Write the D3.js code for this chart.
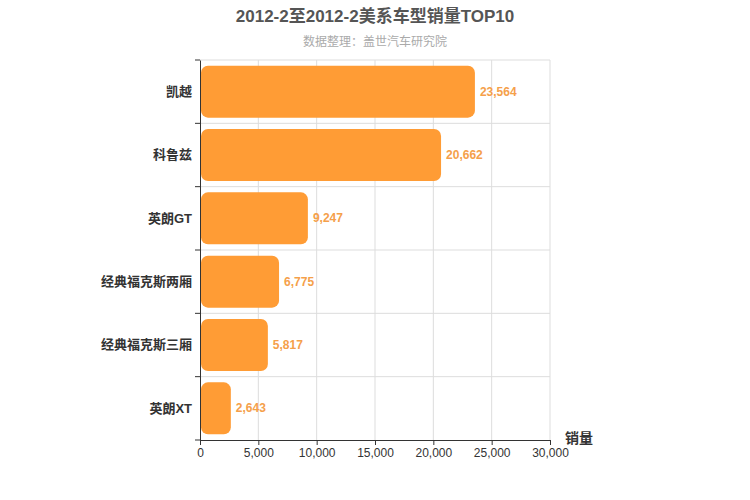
<!DOCTYPE html>
<meta charset="utf-8">
<script src="https://d3js.org/d3.v7.min.js"></script>
<body style="margin:0">
<svg id="svg" width="750" height="500"></svg>
<script>
// data
var categories = ["凯越", "科鲁兹", "英朗GT", "经典福克斯两厢", "经典福克斯三厢", "英朗XT"];
var sales = [23564, 20662, 9247, 6775, 5817, 2643];
var xTicks = [0, 5000, 10000, 15000, 20000, 25000, 30000];

var svg = d3.select("svg");
var font = "'Liberation Sans', 'Noto Sans CJK SC', sans-serif";
var mLeft = 200, mRight = 550, mTop = 60, mBottom = 440;

var x = d3.scaleLinear().domain([0, 30000]).range([mLeft, mRight]);
var y = d3.scaleBand().domain(categories).range([mTop, mBottom]).paddingInner(0.18).paddingOuter(0.09);
var step = (mBottom - mTop) / categories.length;

// grid
svg.append("g").selectAll("line").data(xTicks.slice(1)).enter().append("line")
  .attr("x1", d => x(d)).attr("x2", d => x(d)).attr("y1", mTop).attr("y2", mBottom)
  .attr("stroke", "#ddd");
svg.append("g").selectAll("line").data(d3.range(categories.length)).enter().append("line")
  .attr("x1", mLeft).attr("x2", mRight).attr("y1", d => mTop + d * step).attr("y2", d => mTop + d * step)
  .attr("stroke", "#ddd");

// bars
svg.append("g").selectAll("rect").data(categories).enter().append("rect")
  .attr("x", x(0) + 1).attr("y", d => y(d))
  .attr("width", (d, i) => x(sales[i]) - x(0) - 1).attr("height", y.bandwidth())
  .attr("rx", 7).attr("fill", "#ff9c35");

svg.append("g").selectAll("text").data(categories).enter().append("text")
  .attr("x", (d, i) => x(sales[i]) + 5).attr("y", d => y(d) + y.bandwidth() / 2 + 4)
  .attr("font-family", font).attr("font-size", 12).attr("font-weight", "bold")
  .attr("fill", "#f5a04a").text((d, i) => d3.format(",")(sales[i]));

// axes
var xa = svg.append("g").attr("transform", "translate(0," + mBottom + ")")
  .call(d3.axisBottom(x).tickValues(xTicks).tickFormat(d3.format(",")).tickSize(5));
xa.selectAll("text").attr("font-family", font).attr("font-size", 12).attr("fill", "#333");
xa.selectAll("line,path").attr("stroke", "#333");

var ya = svg.append("g").attr("transform", "translate(" + mLeft + ",0)")
  .call(d3.axisLeft(y).tickSize(0).tickPadding(8));
ya.selectAll("text").attr("font-family", font).attr("font-size", 13).attr("font-weight", "bold").attr("fill", "#333");
ya.select("path").attr("stroke", "#333");
svg.append("g").selectAll("line").data(d3.range(categories.length + 1)).enter().append("line")
  .attr("x1", mLeft - 5).attr("x2", mLeft).attr("y1", d => mTop + d * step).attr("y2", d => mTop + d * step)
  .attr("stroke", "#333");

svg.append("text").attr("x", 565).attr("y", 443).attr("font-family", font)
  .attr("font-size", 14).attr("font-weight", "bold").attr("fill", "#333").text("销量");

// titles
svg.append("text").attr("x", 375).attr("y", 22).attr("text-anchor", "middle").attr("font-family", font)
  .attr("font-size", 17).attr("font-weight", "bold").attr("fill", "#555").text("2012-2至2012-2美系车型销量TOP10");
svg.append("text").attr("x", 375).attr("y", 46).attr("text-anchor", "middle").attr("font-family", font)
  .attr("font-size", 12).attr("fill", "#aaa").text("数据整理：盖世汽车研究院");
</script>
</body>
